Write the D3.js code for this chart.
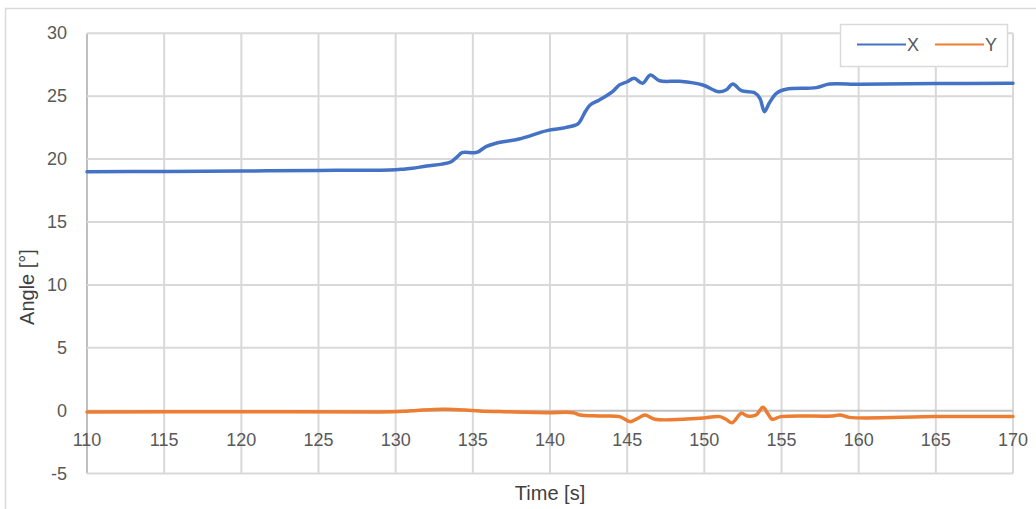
<!DOCTYPE html>
<html>
<head>
<meta charset="utf-8">
<script src="https://cdn.jsdelivr.net/npm/d3@7"></script>
<style>
body { margin: 0; background: #fff; }
#chart { width: 1036px; height: 509px; }
.tick-label { font-family: "Liberation Sans", Arial, sans-serif; font-size: 18px; fill: #595959; }
.axis-title { font-family: "Liberation Sans", Arial, sans-serif; font-size: 20px; fill: #404040; }
</style>
</head>
<body>
<div id="chart"></div>
<script>
var xTicks = [110, 115, 120, 125, 130, 135, 140, 145, 150, 155, 160, 165, 170];
var yTicks = [-5, 0, 5, 10, 15, 20, 25, 30];

var timeX = [110, 115, 120, 125, 129, 130, 130.5, 131.1, 132, 133, 133.6, 134.0, 134.3, 135.0, 135.3,
    135.85, 136.5, 138, 139.8, 141, 141.8, 142.0, 142.3, 142.6, 143.2, 144.05, 144.5, 145.0, 145.45,
    146.0, 146.5, 147.1, 148.4, 149.9, 150.9, 151.4, 151.85, 152.4, 153.26, 153.6, 153.9, 154.2,
    154.67, 155.3, 157.25, 158.1, 160.1, 165, 170];
var angleX = [19.0, 19.02, 19.05, 19.1, 19.12, 19.15, 19.2, 19.27, 19.45, 19.6, 19.79, 20.2, 20.51, 20.5, 20.55,
    20.99, 21.26, 21.6, 22.26, 22.5, 22.79, 23.11, 23.8, 24.3, 24.7, 25.36, 25.9, 26.15, 26.42,
    26.03, 26.69, 26.23, 26.18, 25.89, 25.36, 25.49, 25.97, 25.44, 25.28, 24.83, 23.77, 24.44,
    25.23, 25.55, 25.68, 25.97, 25.95, 26.0, 26.03];

var timeY = [110, 120, 129, 130.5, 131.1, 132.5, 133.3, 134.5, 135.45, 137, 139.8, 141.5, 141.93, 143.2,
    144.5, 145.2, 145.7, 146.15, 146.8, 149.7, 151.0, 151.4, 151.8, 152.4, 152.8, 153.35, 153.8,
    154.1, 154.4, 154.95, 158.3, 158.8, 159.4, 165, 170];
var angleY = [-0.1, -0.08, -0.1, -0.05, 0.0, 0.1, 0.11, 0.05, -0.02, -0.08, -0.16, -0.16, -0.34, -0.42,
    -0.47, -0.87, -0.6, -0.34, -0.68, -0.6, -0.47, -0.68, -0.95, -0.21, -0.42, -0.34, 0.27,
    -0.21, -0.68, -0.47, -0.42, -0.34, -0.53, -0.47, -0.47];

var seriesNames = ['X', 'Y'];
var seriesColors = ['#4472C4', '#ED7D31'];

var width = 1036, height = 509;
var plot = {left: 87, right: 1013, top: 33.3, bottom: 473.6};

var svg = d3.select('#chart')
    .append('svg')
    .attr('width', width)
    .attr('height', height);

// chart frame
svg.append('rect')
    .attr('x', 5.5).attr('y', 8.5)
    .attr('width', 1040).attr('height', 520)
    .attr('fill', '#fff')
    .attr('stroke', '#d9d9d9')
    .attr('stroke-width', 1.5);

var x = d3.scaleLinear().domain([110, 170]).range([plot.left, plot.right]);
var y = d3.scaleLinear().domain([-5, 30]).range([plot.bottom, plot.top]);

var grid = svg.append('g');
grid.selectAll('.vgrid')
    .data(xTicks)
    .enter().append('line')
    .attr('x1', function(d) { return x(d); })
    .attr('x2', function(d) { return x(d); })
    .attr('y1', plot.top).attr('y2', plot.bottom)
    .attr('stroke', function(d) { return d === 110 ? '#bfbfbf' : '#d9d9d9'; })
    .attr('stroke-width', 2);
grid.selectAll('.hgrid')
    .data(yTicks)
    .enter().append('line')
    .attr('y1', function(d) { return y(d); })
    .attr('y2', function(d) { return y(d); })
    .attr('x1', plot.left).attr('x2', plot.right)
    .attr('stroke', function(d) { return d === 0 ? '#bfbfbf' : '#d9d9d9'; })
    .attr('stroke-width', 2);

svg.selectAll('.ylab')
    .data(yTicks)
    .enter().append('text')
    .attr('class', 'tick-label')
    .attr('x', 67)
    .attr('y', function(d) { return y(d) + 6; })
    .attr('text-anchor', 'end')
    .text(function(d) { return d; });

svg.selectAll('.xlab')
    .data(xTicks)
    .enter().append('text')
    .attr('class', 'tick-label')
    .attr('x', function(d) { return x(d); })
    .attr('y', y(0) + 35)
    .attr('text-anchor', 'middle')
    .text(function(d) { return d; });

svg.append('text')
    .attr('class', 'axis-title')
    .attr('x', (plot.left + plot.right) / 2)
    .attr('y', 500)
    .attr('text-anchor', 'middle')
    .text('Time [s]');

svg.append('text')
    .attr('class', 'axis-title')
    .attr('transform', 'translate(34,' + 287 + ')rotate(-90)')
    .attr('text-anchor', 'middle')
    .text('Angle [°]');

var line = d3.line()
    .x(function(d) { return x(d[0]); })
    .y(function(d) { return y(d[1]); })
    .curve(d3.curveCatmullRom.alpha(0.5));

var series = [d3.zip(timeX, angleX), d3.zip(timeY, angleY)];
svg.selectAll('.series')
    .data(series)
    .enter().append('path')
    .attr('d', line)
    .attr('fill', 'none')
    .attr('stroke', function(d, i) { return seriesColors[i]; })
    .attr('stroke-width', 3.5)
    .attr('stroke-linejoin', 'round')
    .attr('stroke-linecap', 'round');

// legend
var legend = svg.append('g');
legend.append('rect')
    .attr('x', 840.5).attr('y', 24.5)
    .attr('width', 167).attr('height', 42)
    .attr('fill', '#fff')
    .attr('stroke', '#d9d9d9')
    .attr('stroke-width', 1.5);
var legendX = [857, 935];
seriesNames.forEach(function(name, i) {
    legend.append('line')
        .attr('x1', legendX[i]).attr('x2', legendX[i] + 49)
        .attr('y1', 44.5).attr('y2', 44.5)
        .attr('stroke', seriesColors[i])
        .attr('stroke-width', 2);
    legend.append('text')
        .attr('class', 'tick-label')
        .attr('x', legendX[i] + 50)
        .attr('y', 51)
        .text(name);
});
</script>
</body>
</html>
